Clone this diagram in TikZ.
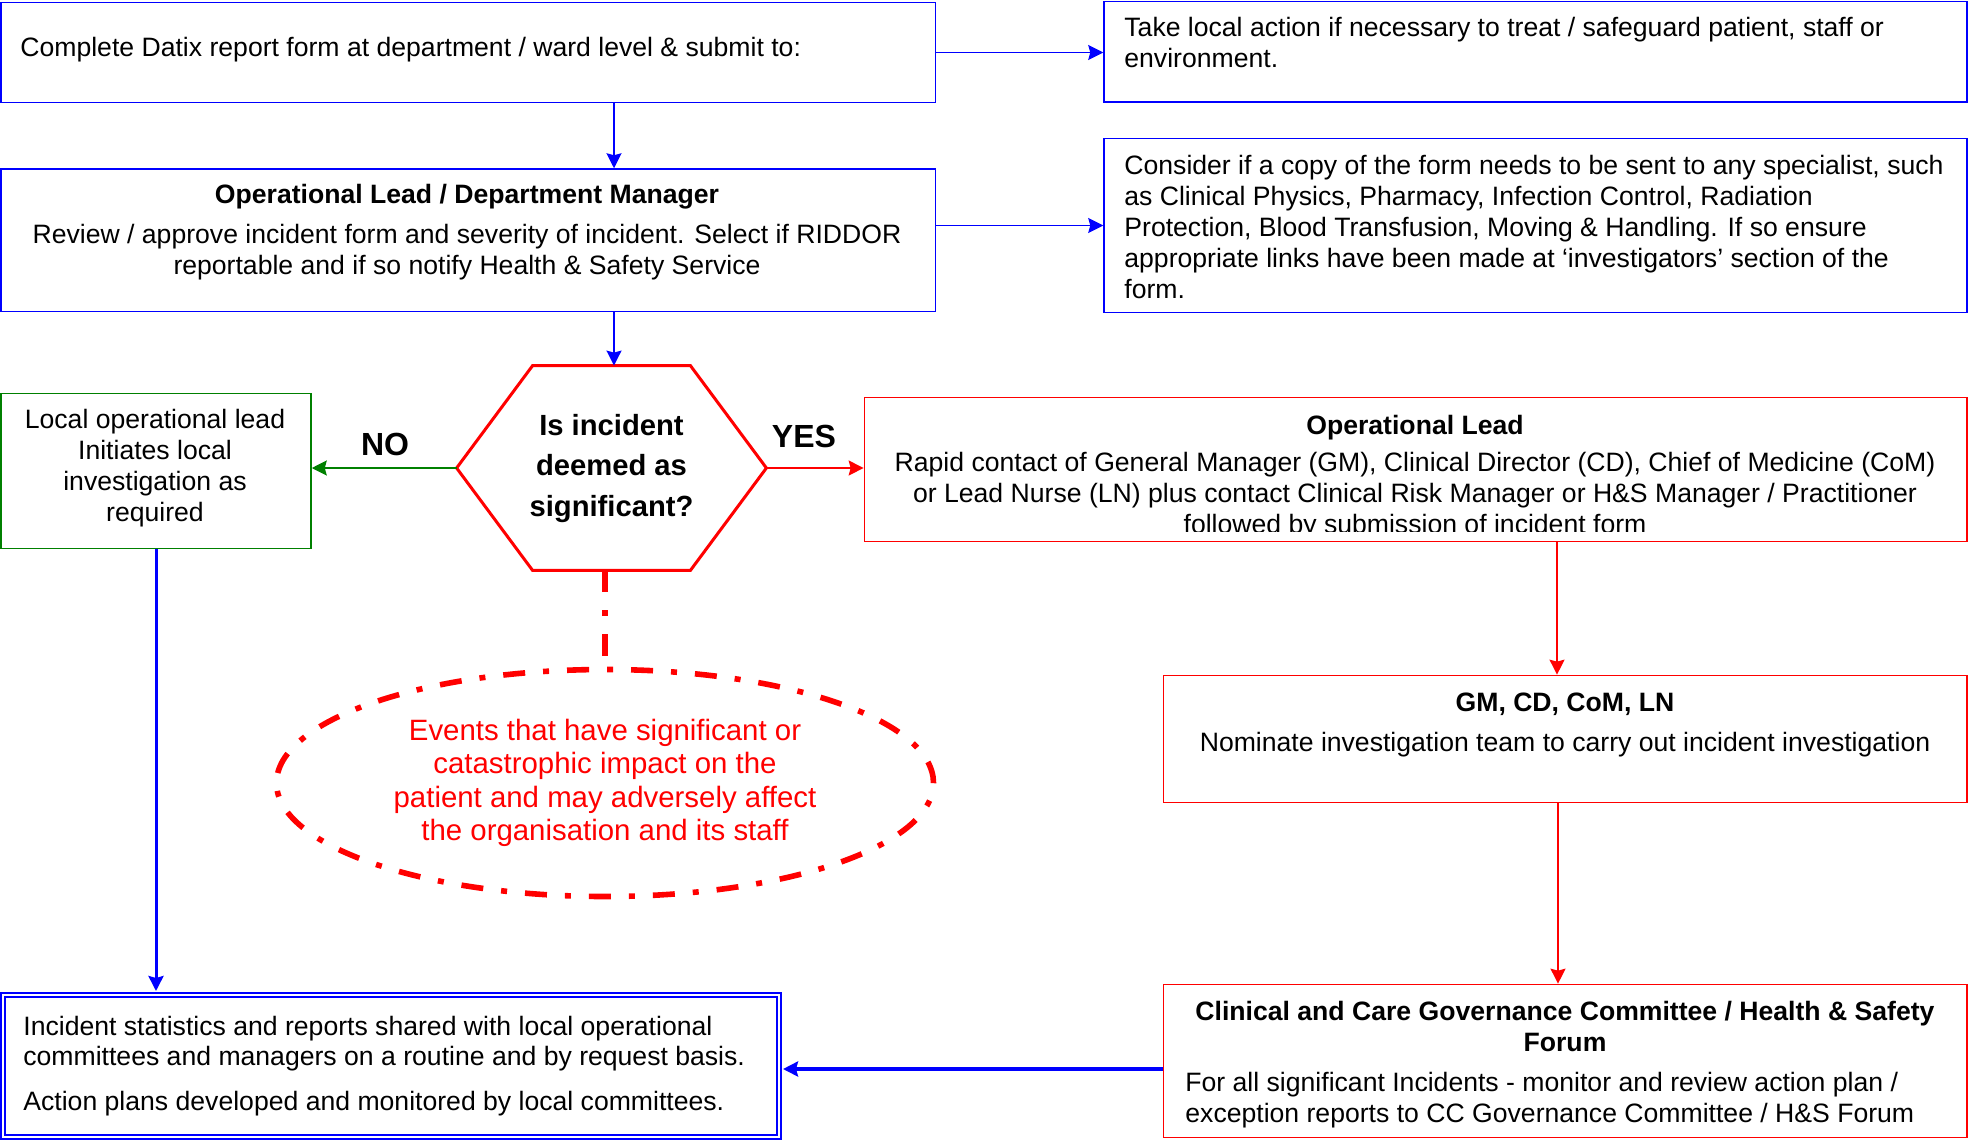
\documentclass[tikz,border=0pt]{standalone}
\usepackage{fontspec}
\setmainfont{Liberation Sans}
\usetikzlibrary{positioning, arrows.meta, fit, shapes.geometric}

\begin{document}
\begin{tikzpicture}[x=0.5pt, y=-0.5pt,
  bluebox/.style={draw=blue, line width=0.75pt, inner sep=0pt},
  redbox/.style={draw=red, line width=0.85pt, inner sep=0pt},
  greenbox/.style={draw=green!50!black, line width=0.75pt, inner sep=0pt},
  txt/.style={inner sep=0pt, font=\fontsize{13.3}{15.4}\selectfont},
  hdtxt/.style={inner sep=0pt, font=\bfseries\fontsize{16}{18}\selectfont},
  arr/.style={-{Stealth[length=7.5pt,width=7.5pt,inset=1pt]}},
  barrow/.style={arr, draw=blue, line width=0.8pt},
  rarrow/.style={arr, draw=red, line width=0.85pt}]
\useasboundingbox (0,0) rectangle (1969,1141);

% boxes
\node[bluebox, fit={(1,2.5) (935.5,102.5)}] (datix) {};
\node[bluebox, fit={(1104,1.5) (1967,102)}] (action) {};
\node[bluebox, fit={(1,169) (935.5,311.5)}] (mgr) {};
\node[bluebox, fit={(1104,138.5) (1967,312.5)}] (specialist) {};
\node[greenbox, fit={(1,393.5) (311,548.5)}] (local) {};
\node[redbox, fit={(864.5,397.5) (1967,541.5)}] (oplead) {};
\node[redbox, fit={(1163.5,675.5) (1967,802.5)}] (gm) {};
\node[redbox, fit={(1163.5,984.5) (1967,1137.5)}] (ccgc) {};
\node[draw=blue, double, double distance=1pt, line width=1pt, inner sep=0pt,
  fit={(3,995) (779,1137)}] (results) {};

% decision
\node[inner sep=0pt, fit={(457,366) (766,570)}] (signif) {};
\draw[red, line width=1.5pt] (signif.west) -- ([xshift=38pt]signif.north west)
  -- ([xshift=-38pt]signif.north east) -- (signif.east)
  -- ([xshift=-38pt]signif.south east) -- ([xshift=38pt]signif.south west) -- cycle;
\node[inner sep=0pt, align=center, font=\bfseries\fontsize{14.6}{20.2}\selectfont]
  (signiftxt) at (611.5,468.5) {Is incident\\deemed as\\significant?};

\node[ellipse, draw=red, line width=2.8pt, inner sep=0pt,
  dash pattern=on 11pt off 9pt on 3pt off 9pt,
  minimum width=328.5pt, minimum height=113.5pt, align=center, text=red,
  font=\fontsize{14.7}{16.7}\selectfont] (events) at (605,783)
  {Events that have significant or\\catastrophic impact on the\\patient and may adversely affect\\the organisation and its staff};

% texts
\node[txt, anchor=west] (datixtxt) at (20,49.5)
  {Complete Datix report form at department / ward level \& submit to:};
\node[txt, anchor=west, align=left] (actiontxt) at (1124,42.5)
  {Take local action if necessary to treat / safeguard patient, staff or\\environment.};
\node[txt, align=center] (mgrtxt) at (467,232.5)
  {\textbf{Operational Lead / Department Manager}\\[4.6pt]
   Review / approve incident form and severity of incident. Select if RIDDOR\\
   reportable and if so notify Health \& Safety Service};
\node[txt, anchor=west, align=left] (spectxt) at (1124,227)
  {Consider if a copy of the form needs to be sent to any specialist, such\\
   as Clinical Physics, Pharmacy, Infection Control, Radiation\\
   Protection, Blood Transfusion, Moving \& Handling. If so ensure\\
   appropriate links have been made at ‘investigators’ section of the\\
   form.};
\node[txt, align=center] (localtxt) at (155,468)
  {Local operational lead\\Initiates local\\investigation as\\required};
\node[hdtxt] (no) at (385,444) {NO};
\node[hdtxt] (yes) at (804,436) {YES};
\begin{scope}
\clip (866,399) rectangle (1966,531);
\node[txt, align=center] (opleadtxt) at (1415,477)
  {\textbf{Operational Lead}\\[3pt]
   Rapid contact of General Manager (GM), Clinical Director (CD), Chief of Medicine (CoM)\\
   or Lead Nurse (LN) plus contact Clinical Risk Manager or H\&S Manager / Practitioner\\
   followed by submission of incident form};
\end{scope}
\node[txt, align=center] (gmtxt) at (1565,725)
  {\textbf{GM, CD, CoM, LN}\\[4.6pt]
   Nominate investigation team to carry out incident investigation};
\node[txt, align=center, font=\bfseries\fontsize{13.3}{15.8}\selectfont] (ccgchd) at (1565,1026.5)
  {Clinical and Care Governance Committee / Health \& Safety\\Forum};
\node[txt, anchor=west, align=left] (ccgctxt) at (1185,1100)
  {For all significant Incidents - monitor and review action plan /\\
   exception reports to CC Governance Committee / H\&S Forum};
\node[txt, anchor=west, align=left] (resultstxt) at (23,1066)
  {Incident statistics and reports shared with local operational\\
   committees and managers on a routine and by request basis.\\[7pt]
   Action plans developed and monitored by local committees.};

% connectors
\draw[barrow] (datix.east) -- (datix.east -| action.west);
\draw[barrow] (datix.south -| 614,0) -- (mgr.north -| 614,0);
\draw[barrow] (mgr.east |- specialist.west) -- (specialist.west);
\draw[barrow] (mgr.south -| 614,0) -- (signif.north -| 614,0);
\draw[arr, green!50!black, line width=1pt] (signif.west) -- (signif.west -| local.east);
\draw[rarrow] (signif.east) -- (signif.east -| oplead.west);
\draw[red, line width=2.8pt, dash pattern=on 11pt off 9pt on 3pt off 9pt]
  (signif.south -| events.north) -- ([yshift=1.5pt]events.north);
\draw[rarrow] (oplead.south -| 1557,0) -- (gm.north -| 1557,0);
\draw[rarrow] (gm.south -| 1558,0) -- (ccgc.north -| 1558,0);
\draw[barrow, line width=1.5pt, shorten >=1.5pt] (local.south) -- (local.south |- results.north);
\draw[barrow, line width=1.6pt, shorten >=1.5pt] (ccgc.west |- 0,1069) -- (results.east |- 0,1069);
\end{tikzpicture}
\end{document}
